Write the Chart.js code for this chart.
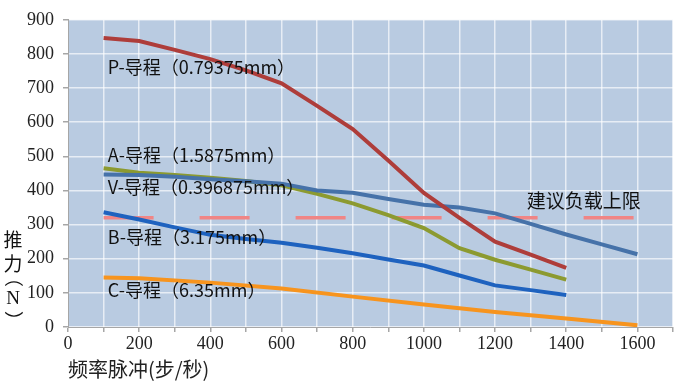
<!DOCTYPE html>
<html>
<head>
<meta charset="utf-8">
<script src="https://cdn.jsdelivr.net/npm/chart.js@4"></script>
<style>
  html, body { margin: 0; padding: 0; background: #fff; }
</style>
</head>
<body>
<canvas id="thrustChart" width="700" height="390"></canvas>
<script>
// thrust (N) vs pulse frequency (steps/s)
const pX = [100, 200, 300, 400, 500, 600, 700, 800, 900, 1000, 1100, 1200, 1300, 1400];
const pY = [847, 838, 812, 785, 752, 714, 648, 580, 488, 393, 320, 250, 212, 173];

const vX = [100, 200, 300, 400, 500, 600, 700, 800, 900, 1000, 1100, 1200, 1300, 1400, 1500, 1600];
const vY = [447, 445, 440, 433, 427, 420, 400, 393, 375, 358, 350, 333, 302, 271, 242, 213];

const aX = [100, 200, 300, 400, 500, 600, 700, 800, 900, 1000, 1100, 1200, 1300, 1400];
const aY = [465, 452, 445, 437, 428, 415, 390, 362, 328, 290, 231, 197, 168, 139];

const bX = [100, 200, 300, 400, 500, 600, 700, 800, 900, 1000, 1100, 1200, 1300, 1400];
const bY = [336, 315, 292, 270, 258, 247, 232, 216, 198, 180, 151, 122, 108, 94];

const cX = [100, 200, 400, 600, 800, 1000, 1200, 1400, 1600];
const cY = [145, 143, 130, 113, 89, 66, 44, 25, 5];

const limitX = [100, 1600];
const limitY = [320, 320];

const seriesNames = ['P-导程（0.79375mm）', 'V-导程（0.396875mm）', 'A-导程（1.5875mm）', 'B-导程（3.175mm）', 'C-导程（6.35mm）'];
const limitName = '建议负载上限';

// where the in-plot labels sit, in data units
const labelX = [112, 112, 112, 112, 112];
const labelY = [760, 410, 502, 262, 107];
const limitLabelX = 1289;
const limitLabelY = 370;

const xTitle = '频率脉冲(步/秒)';
const yTitle = ['推', '力', '（', 'N', '）'];

const pts = (xs, ys) => xs.map((x, i) => ({ x: x, y: ys[i] }));

const line = (label, xs, ys, color) => ({
  label: label,
  data: pts(xs, ys),
  borderColor: color,
  borderWidth: 4,
  pointRadius: 0,
  fill: false,
  tension: 0
});

const plotBg = {
  id: 'plotBg',
  beforeDraw(chart) {
    const { ctx, chartArea: a } = chart;
    ctx.save();
    ctx.fillStyle = '#B9CBE1';
    ctx.fillRect(a.left, a.top, a.right - a.left, a.bottom - a.top);
    ctx.restore();
  }
};

const textLabels = {
  id: 'textLabels',
  afterDatasetsDraw(chart) {
    const { ctx, scales } = chart;
    ctx.save();
    ctx.fillStyle = '#111';
    ctx.textBaseline = 'middle';
    ctx.textAlign = 'left';
    ctx.font = '18px "Noto Sans CJK SC"';
    seriesNames.forEach((name, i) => {
      ctx.fillText(name, scales.x.getPixelForValue(labelX[i]), scales.y.getPixelForValue(labelY[i]));
    });
    ctx.font = '19px "Noto Sans CJK SC"';
    ctx.fillText(limitName, scales.x.getPixelForValue(limitLabelX), scales.y.getPixelForValue(limitLabelY));

    // vertical y title, characters stacked, brackets turned and centred on their ink
    const ys = [240, 264, 284, 299, 314];
    yTitle.forEach((ch, i) => {
      if (ch === '（' || ch === '）') {
        ctx.font = '19px "Noto Sans CJK SC"';
        ctx.textAlign = 'left';
        const m = ctx.measureText(ch);
        const mid = (m.actualBoundingBoxRight - m.actualBoundingBoxLeft) / 2;
        ctx.save();
        ctx.translate(13, ys[i]);
        ctx.rotate(Math.PI / 2);
        ctx.fillText(ch, -mid, 0);
        ctx.restore();
      } else {
        ctx.font = ch === 'N' ? '19px "Liberation Serif"' : '19px "Noto Sans CJK SC"';
        ctx.textAlign = 'center';
        ctx.fillText(ch, 13, ys[i]);
      }
    });
    ctx.restore();
  }
};

const data = {
  datasets: [
    line(seriesNames[0], pX, pY, '#AE3D3A'),
    line(seriesNames[1], vX, vY, '#4672A9'),
    line(seriesNames[2], aX, aY, '#8C9A30'),
    line(seriesNames[3], bX, bY, '#1E62BF'),
    line(seriesNames[4], cX, cY, '#F7941E'),
    {
      label: limitName,
      data: pts(limitX, limitY),
      borderColor: '#F08585',
      borderWidth: 3.5,
      borderDash: [50, 46],
      borderCapStyle: 'butt',
      pointRadius: 0,
      fill: false
    }
  ]
};

const tickFont = { family: '"Liberation Serif"', size: 18 };

const config = {
  type: 'line',
  data: data,
  options: {
    responsive: false,
    animation: false,
    layout: { padding: { top: 14, right: 27, left: 0, bottom: 0 } },
    plugins: { legend: { display: false }, tooltip: { enabled: false } },
    scales: {
      x: {
        type: 'linear',
        min: 0,
        max: 1700,
        afterFit: s => { s.height = 63; },
        border: { color: '#A6A6A6', width: 1 },
        grid: { color: 'rgba(255,255,255,0.65)', lineWidth: 1.5, tickColor: '#A6A6A6', tickLength: 5 },
        ticks: {
          stepSize: 100,
          autoSkip: false,
          maxRotation: 0,
          color: '#222',
          font: tickFont,
          padding: 1,
          callback: v => (v % 200 === 0 && v <= 1600 ? v : '')
        },
        title: {
          display: true,
          text: xTitle,
          align: 'start',
          color: '#222',
          font: { family: '"Noto Sans CJK SC"', size: 20 },
          padding: { top: 4, bottom: 9 }
        }
      },
      y: {
        min: 0,
        max: 900,
        afterFit: s => { s.width = 68; },
        border: { color: '#A6A6A6', width: 1 },
        grid: { color: 'rgba(255,255,255,0.65)', lineWidth: 1.5, tickColor: '#A6A6A6', tickLength: 5 },
        ticks: { stepSize: 100, color: '#222', font: tickFont, padding: 9 }
      }
    }
  },
  plugins: [plotBg, textLabels]
};

const thrustChart = new Chart(document.getElementById('thrustChart'), config);
</script>
</body>
</html>
